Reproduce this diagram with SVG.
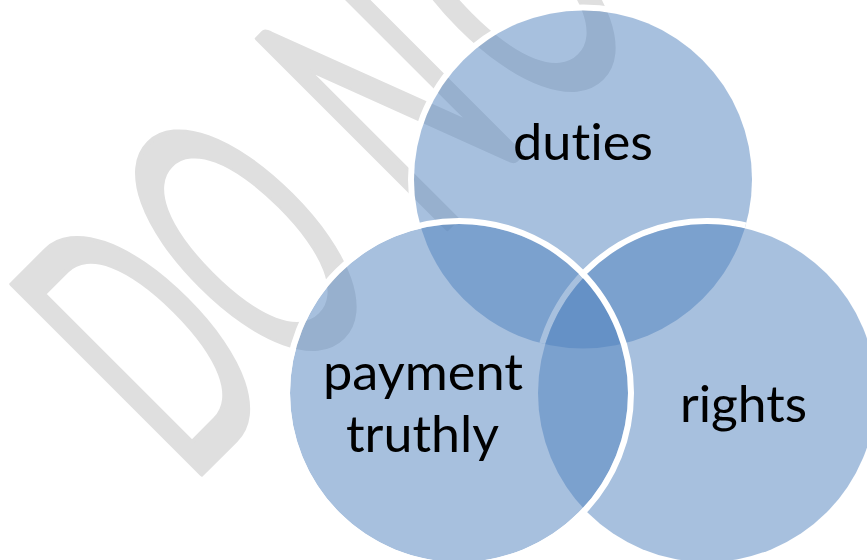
<svg xmlns="http://www.w3.org/2000/svg" width="867" height="560" viewBox="0 0 867 560">
<style>
.wm{font-family:"Lato","Open Sans",sans-serif;font-size:100px;fill:#dfdfdf;stroke:#dfdfdf;stroke-width:1.2;stroke-linejoin:round}
.disc{fill:#4f81bd;fill-opacity:.5}
.ring{fill:none;stroke:#fff;stroke-width:6}
.lab{font-family:"Lato","Open Sans",sans-serif;font-size:51px;fill:#000;font-variant-ligatures:none}
</style>
<defs>
<clipPath id="outL"><path clip-rule="evenodd" d="M-10-10H900V600H-10ZM290 393a169 169 0 1 0 338 0a169 169 0 1 0-338 0Z"/></clipPath>
<clipPath id="outR"><path clip-rule="evenodd" d="M-10-10H900V600H-10ZM538 393a169 169 0 1 0 338 0a169 169 0 1 0-338 0Z"/></clipPath>
<clipPath id="inT"><circle cx="583" cy="179.500" r="169"/></clipPath>
</defs>
<rect width="867" height="560" fill="#fff"/>
<text id="watermark" class="wm" transform="translate(189,487) rotate(-45) scale(1.85,3.75)">DO<tspan dx="6"> N</tspan><tspan dx="10">OT</tspan></text>
<g id="connectors"/>
<g id="node-duties">
<g clip-path="url(#outL)"><circle class="ring" cx="583" cy="179.500" r="172" clip-path="url(#outR)"/></g>
<circle class="disc" cx="583" cy="179.500" r="169"/>
</g>
<g id="node-rights">
<circle class="ring" cx="707" cy="393" r="172" clip-path="url(#inT)"/>
<circle class="disc" cx="707" cy="393" r="169"/>
</g>
<g id="node-payment-truthly">
<circle class="disc" cx="459" cy="393" r="169"/>
<circle class="ring" cx="459" cy="393" r="172"/>
</g>
<text class="lab" x="513" y="160" textLength="140" lengthAdjust="spacingAndGlyphs">duties</text>
<text class="lab" x="680" y="422" textLength="127" lengthAdjust="spacingAndGlyphs">rights</text>
<text class="lab" x="323" y="390" textLength="200" lengthAdjust="spacingAndGlyphs">payment</text>
<text class="lab" x="346" y="452" textLength="153" lengthAdjust="spacingAndGlyphs">truthly</text>
</svg>
